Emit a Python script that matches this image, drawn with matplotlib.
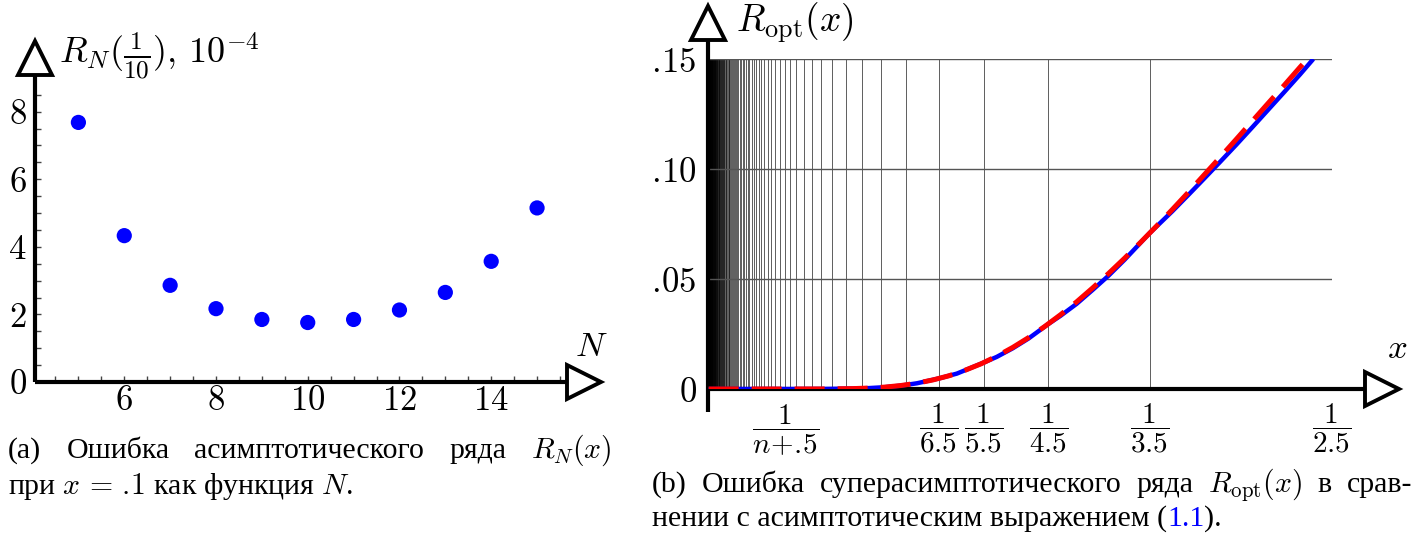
import matplotlib
matplotlib.use("Agg")
import matplotlib.pyplot as plt
import numpy as np

plt.rcParams["font.family"] = ["Liberation Serif", "DejaVu Serif"]
plt.rcParams["mathtext.fontset"] = "cm"

# ---------------------------------------------------------------------------
# Data
# ---------------------------------------------------------------------------

# (a) error of the asymptotic series at x = 1/10, units of 1e-4
n_terms = [5, 6, 7, 8, 9, 10, 11, 12, 13, 14, 15]
r_n = [7.68, 4.33, 2.86, 2.17, 1.85, 1.76, 1.85, 2.13, 2.65, 3.57, 5.15]

# (b) superasymptotic error (blue) and asymptotic expression (red dashed)
x_opt = [0.0095, 0.06, 0.08, 0.10, 0.11, 0.12, 0.13, 0.14, 0.1538, 0.165,
         0.1818, 0.19, 0.20, 0.21, 0.2222, 0.23, 0.24, 0.25, 0.26, 0.27,
         0.2857, 0.30, 0.31, 0.32, 0.33, 0.34, 0.35, 0.36, 0.37, 0.38, 0.3883]
r_opt = [0.0, 0.0, 0.00001, 0.00018, 0.00042, 0.00083, 0.00153, 0.0026, 0.0048, 0.0070,
         0.0120, 0.0146, 0.0185, 0.0230, 0.0295, 0.0333, 0.0387, 0.0450, 0.0515, 0.0587,
         0.0708, 0.0808, 0.0882, 0.0957, 0.1033, 0.1110, 0.1189, 0.1269, 0.1349, 0.1430, 0.150]
x_asy = [0.0095, 0.06, 0.08, 0.10, 0.11, 0.12, 0.13, 0.14, 0.15, 0.16, 0.17,
         0.18, 0.19, 0.20, 0.21, 0.22, 0.23, 0.24, 0.25, 0.26, 0.27, 0.28,
         0.29, 0.30, 0.31, 0.32, 0.33, 0.34, 0.35, 0.36, 0.37, 0.38, 0.3845]
r_asy = [0.0, 0.0, 0.00002, 0.00018, 0.00043, 0.00087, 0.00159, 0.00265, 0.00412, 0.0060, 0.00848,
         0.0114, 0.0149, 0.0189, 0.0234, 0.0284, 0.0338, 0.0396, 0.0459, 0.0525, 0.0594, 0.0666,
         0.0740, 0.0816, 0.0894, 0.0974, 0.1054, 0.1135, 0.1217, 0.1299, 0.1380, 0.1463, 0.1499]

grid_n = np.arange(2, 260)          # vertical grid at x = 1/(n + .5)
xtick_n = [6, 5, 4, 3, 2]           # labelled ones
ytick_b = [0.05, 0.10, 0.15]
ytick_b_labels = [r"$.\!05$", r"$.\!10$", r"$.\!15$"]

W, H = 1424, 536
fig = plt.figure(figsize=(W / 100, H / 100), dpi=100)


def px_axes(left, right, top, bottom):
    return fig.add_axes([left / W, (H - bottom) / H, (right - left) / W, (bottom - top) / H])


def draw_axis_arrows(ax, x_end, y_end, y_start=0.0, x_start=0.0, ms=24):
    # thick axis lines with open triangle heads, in axes fractions
    kw = dict(transform=ax.transAxes, clip_on=False, color="black", lw=3, solid_capstyle="butt")
    ax.plot([x_start, x_end], [0, 0], **kw)
    ax.plot([0, 0], [y_start, y_end], **kw)
    mk = dict(transform=ax.transAxes, clip_on=False, mfc="white", mec="black", mew=2.8, ms=ms, ls="none")
    ax.plot([x_end], [0], marker=">", **mk)
    ax.plot([0], [y_end], marker="^", **mk)


# ---------------------------------------------------------------------------
# (a)
# ---------------------------------------------------------------------------
ax1 = px_axes(35, 560, 90, 382)
ax1.set_xlim(5 - 44 / 46.5, 5 + 481 / 46.5)
ax1.set_ylim(0, 292 / 33.8)
for s in ax1.spines.values():
    s.set_visible(False)
ax1.scatter(n_terms, r_n, s=120, color="#0000ff", zorder=3, edgecolors="none")
ax1.set_xticks([6, 8, 10, 12, 14])
ax1.set_xticklabels([rf"${v}$" for v in [6, 8, 10, 12, 14]])
ax1.set_yticks([0, 2, 4, 6, 8])
ax1.set_yticklabels([rf"${v}$" for v in [0, 2, 4, 6, 8]])
ax1.set_xticks(np.arange(4.5, 15.6, 0.5), minor=True)
ax1.set_yticks(np.arange(0.5, 8.6, 0.5), minor=True)
ax1.tick_params(axis="both", which="both", direction="in", length=4, width=1, labelsize=25, color="#444444")
ax1.tick_params(axis="x", pad=2)
ax1.tick_params(axis="y", pad=6)
draw_axis_arrows(ax1, 1.045, 1.11)
ax1.text(1.06, 0.06, r"$N$", transform=ax1.transAxes, fontsize=25, ha="center", va="bottom")
ax1.text(0.045, 1.115, r"$R_N(\frac{1}{10}),\,10^{-4}$", transform=ax1.transAxes, fontsize=26,
         ha="left", va="center")

# ---------------------------------------------------------------------------
# (b)
# ---------------------------------------------------------------------------
ax2 = px_axes(708, 1332, 59, 389)
ax2.set_xlim(0.0091, 0.4)
ax2.set_ylim(0, 0.15)
for s in ax2.spines.values():
    s.set_visible(False)
ax2.vlines(1.0 / (grid_n + 0.5), 0, 0.15, color="black", lw=0.55, alpha=0.8, zorder=1)
ax2.hlines(ytick_b, 0.0091, 0.4, color="#555555", lw=1.0, zorder=1)
ax2.plot(x_opt, r_opt, color="#0000ff", lw=3.2, zorder=3, solid_capstyle="butt")
ax2.plot(x_asy, r_asy, color="#ff0000", lw=3.6, zorder=4, dashes=(6, 2.6))
ax2.set_yticks([0] + ytick_b)
ax2.set_yticklabels([r"$0$"] + ytick_b_labels)
ax2.set_xticks([])
ax2.tick_params(axis="y", length=0, labelsize=25, pad=8)
for n in xtick_n:
    ax2.text(1.0 / (n + 0.5), -0.006, rf"$\dfrac{{1}}{{{n}.5}}$", fontsize=21,
             ha="center", va="top")
ax2.text(0.058, -0.006, r"$\dfrac{1}{n\!+\!.\!5}$", fontsize=21, ha="center", va="top")
draw_axis_arrows(ax2, 1.08, 1.11, y_start=-0.07)
ax2.text(1.105, 0.07, r"$x$", transform=ax2.transAxes, fontsize=25, ha="center", va="bottom")
ax2.text(0.045, 1.11, r"$R_{\rm opt}(x)$", transform=ax2.transAxes, fontsize=27,
         ha="left", va="center")

# ---------------------------------------------------------------------------
# captions (justified like the TeX source)
# ---------------------------------------------------------------------------
CAP = 21.5
renderer = fig.canvas.get_renderer()


def justify(words, x0, x1, y):
    texts = [fig.text(0, 1 - y / H, w, fontsize=CAP, va="baseline", ha="left") for w in words]
    widths = [t.get_window_extent(renderer).width for t in texts]
    gap = (x1 - x0 - sum(widths)) / (len(words) - 1)
    xp = x0
    for t, w in zip(texts, widths):
        t.set_x(xp / W)
        xp += w + gap


def ragged(parts, x0, y):
    xp = x0
    for txt, col in parts:
        t = fig.text(xp / W, 1 - y / H, txt, fontsize=CAP, va="baseline", ha="left", color=col)
        xp += t.get_window_extent(renderer).width


justify(["(a)", "Ошибка", "асимптотического", "ряда", r"$R_N(x)$"], 8, 612, 458)
ragged([(r"при $x\,=\,.\!1$ как функция $N$.", "black")], 8, 494)

justify(["(b)", "Ошибка", "суперасимптотического", "ряда", r"$R_{\rm opt}(x)$", "в", "срав-"],
        652, 1412, 492)
ragged([("нении с асимптотическим выражением (", "black"), ("1.1", "#0000ff"), (").", "black")],
       652, 526)

fig.savefig("out.png", dpi=100)
